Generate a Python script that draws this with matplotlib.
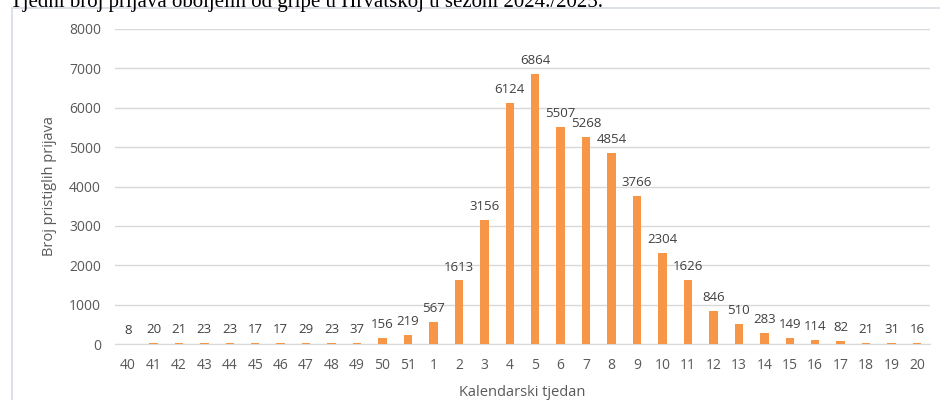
import matplotlib
matplotlib.use("Agg")
import matplotlib.pyplot as plt
from matplotlib.patches import Rectangle

weeks = ["40", "41", "42", "43", "44", "45", "46", "47", "48", "49", "50", "51",
         "1", "2", "3", "4", "5", "6", "7", "8", "9", "10", "11", "12", "13", "14",
         "15", "16", "17", "18", "19", "20"]
counts = [8, 20, 21, 23, 23, 17, 17, 29, 23, 37, 156, 219, 567, 1613, 3156, 6124,
          6864, 5507, 5268, 4854, 3766, 2304, 1626, 846, 510, 283, 149, 114, 82,
          21, 31, 16]
yticks = [0, 1000, 2000, 3000, 4000, 5000, 6000, 7000, 8000]

plt.rcParams['font.family'] = ['Open Sans', 'DejaVu Sans']
fig = plt.figure(figsize=(9.4, 4.0), dpi=100)
fig.patch.set_facecolor('white')

# chart frame
fig.patches.append(Rectangle((12/940, -0.01), 1.0, 1 - 8/400 + 0.01, transform=fig.transFigure,
                             fill=False, edgecolor='#D6DCE4', linewidth=1.2))
# caption (partly cut off at the top, as in the reference)
fig.text(10/940, 1.0 - 3/400, "Tjedni broj prijava oboljelih od gripe u Hrvatskoj u sezoni 2024./2025.",
         family='Liberation Serif', fontsize=15, va='center', ha='left', color='black')

ax = fig.add_axes([115/940, 1 - 344/400, (930-115)/940, (344-29)/400])
x = list(range(len(weeks)))
bars = ax.bar(x, counts, width=0.33, color='#F79646', zorder=3)
for xi, v in zip(x, counts):
    ax.annotate(str(v), (xi, v), xytext=(0, 5), textcoords='offset points',
                ha='center', va='bottom', fontsize=9.5, color='#404040')

ax.set_xlim(-0.51, len(weeks) - 0.49)
ax.set_ylim(0, 8000)
ax.set_yticks(yticks)
ax.set_xticks(x)
ax.set_xticklabels(weeks)
ax.grid(axis='y', color='#D9D9D9', linewidth=1, zorder=0)
for s in ['top', 'right', 'left']:
    ax.spines[s].set_visible(False)
ax.spines['bottom'].set_color('#D9D9D9')
ax.tick_params(axis='both', length=0, labelsize=10, colors='#595959', pad=10)
ax.tick_params(axis='x', pad=10)
ax.set_ylabel("Broj pristiglih prijava", fontsize=10.5, color='#595959', labelpad=9)
ax.set_xlabel("Kalendarski tjedan", fontsize=10.5, color='#595959', labelpad=9)

fig.savefig("out.png", dpi=100, facecolor='white')
